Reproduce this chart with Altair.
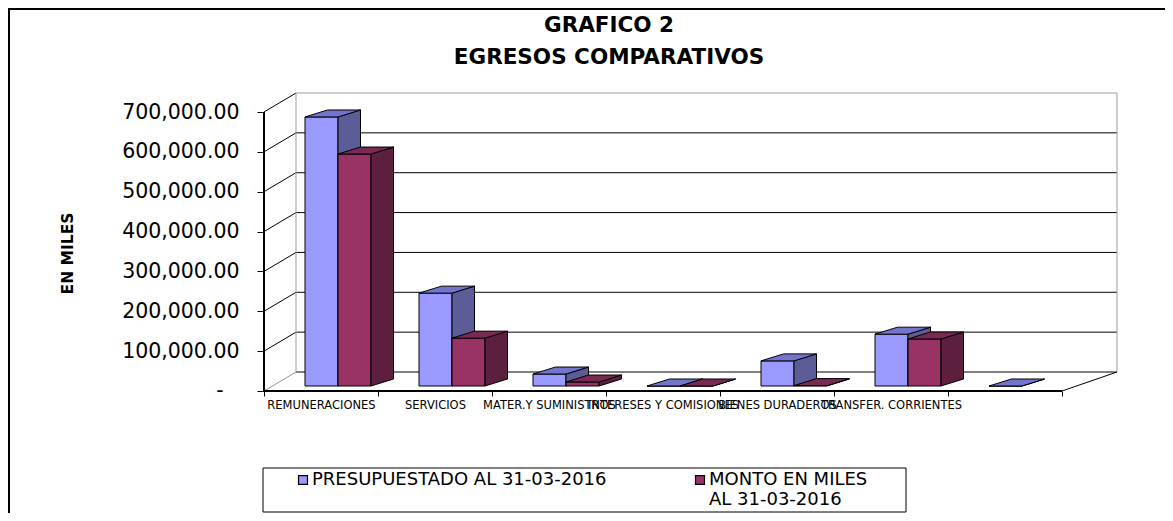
import json
import altair as alt
import pandas as pd

# ---------------- data ----------------
TITLE_LINES = ["GRAFICO 2", "EGRESOS COMPARATIVOS"]
CATEGORIES = ["REMUNERACIONES", "SERVICIOS", "MATER.Y SUMINISTROS",
              "INTERESES Y COMISIONES", "BIENES DURADEROS", "TRANSFER. CORRIENTES", ""]
SERIES = ["PRESUPUESTADO AL 31-03-2016", "MONTO EN MILES AL 31-03-2016"]
PRESUPUESTADO = [675000, 233000, 30000, 0, 63000, 130000, 0]
MONTO = [582000, 120000, 10000, 0, 1000, 118000, None]
Y_TICKS = [0, 100000, 200000, 300000, 400000, 500000, 600000, 700000]
ZERO_LABEL = "-"

FRONT_COLORS = ["#9999FF", "#993366"]
TOP_COLORS = ["#7375CC", "#7A2952"]
SIDE_COLORS = ["#5C5C99", "#5C1F3D"]

# ---------------- layout (pixels) ----------------
VIEW_W, VIEW_H = 1157, 505
AX_X = 256          # view x of the front value axis
AX_Y0 = 383         # view y of value 0 on the front plane
CAT_PX = 114.0
V_PX = 279.0 / 700000.0
FLOOR_DX_L, FLOOR_DX_R, FLOOR_DY = 32.0, 55.0, 19.0
BAR_BASE_PX, BAR_GAP_PX, BAR_W_PX = 5.0, 41.0, 33.0
BAR_DX, BAR_DY = 22.5, 7.0
FONT = "DejaVu Sans"

NCAT = len(CATEGORIES)
x_dom = [-AX_X / CAT_PX, (VIEW_W - AX_X) / CAT_PX]
y_dom = [-(VIEW_H - AX_Y0) / V_PX, AX_Y0 / V_PX]
xs = alt.Scale(domain=x_dom, nice=False, zero=False)
ys = alt.Scale(domain=y_dom, nice=False, zero=False)

# ---------------- walls / floor lines ----------------
rows = []
sid = [0]


def add(kind, pts):
    sid[0] += 1
    for k, (x, y) in enumerate(pts):
        rows.append(dict(seg=sid[0], ord=k, x=x, y=y, kind=kind))


bxL = FLOOR_DX_L / CAT_PX
bxR = NCAT + FLOOR_DX_R / CAT_PX
dyv = FLOOR_DY / V_PX
vmax = max(Y_TICKS)
for v in Y_TICKS:
    add("gray" if v == 0 else "black", [(0, v), (bxL, v + dyv)])
    add("gray" if v == vmax else "black", [(bxL, v + dyv), (bxR, v + dyv)])
add("gray", [(bxL, dyv), (bxL, vmax + dyv)])
add("gray", [(bxR, dyv), (bxR, vmax + dyv)])
add("black", [(NCAT, 0), (bxR, dyv)])
add("thick", [(0, 0), (NCAT, 0)])
add("thick", [(0, 0), (0, vmax)])
lines = pd.DataFrame(rows)

# ---------------- bars ----------------
front, side, top = [], [], []
base_v = BAR_BASE_PX / V_PX
gx, bw = BAR_GAP_PX / CAT_PX, BAR_W_PX / CAT_PX
ddx, ddv = BAR_DX / CAT_PX, BAR_DY / V_PX
bar = 0
for s, vals in enumerate([PRESUPUESTADO, MONTO]):
    for i, val in enumerate(vals):
        if val is None:
            continue
        bar += 1
        xl = i + gx + s * bw
        xr = xl + bw
        y0, y1 = base_v, base_v + val
        front.append(dict(serie=SERIES[s], s=s, x=xl, x2=xr, y=y0, y2=y1))
        side.append(dict(bar=bar, s=s, x=xr, y=y1, y2=y0))
        side.append(dict(bar=bar, s=s, x=xr + ddx, y=y1 + ddv, y2=y0 + ddv))
        top.append(dict(bar=bar, s=s, y=y1, x=xl, x2=xr))
        top.append(dict(bar=bar, s=s, y=y1 + ddv, x=xl + ddx, x2=xr + ddx))
front, side, top = pd.DataFrame(front), pd.DataFrame(side), pd.DataFrame(top)

cat_expr = json.dumps(CATEGORIES) + "[datum.value] || ''"
x_axis = alt.Axis(values=list(range(NCAT + 1)), offset=-(VIEW_H - AX_Y0), domain=False,
                  tickSize=5, tickColor="black", tickWidth=1, labelExpr=cat_expr,
                  labelOffset=CAT_PX / 2, labelPadding=3, labelFont=FONT, labelFontSize=11.5,
                  labelColor="black", labelOverlap=False, labelFlush=False, grid=False, title=None,
                  zindex=1)
y_axis = alt.Axis(values=Y_TICKS, offset=-AX_X, domain=False, tickSize=7, tickColor="black",
                  tickWidth=1, labelExpr="datum.value == 0 ? '' : format(datum.value, ',.2f')",
                  labelFont=FONT, labelFontSize=20.5, labelColor="black", labelPadding=18,
                  grid=False, title="EN MILES", titleFont=FONT, titleFontSize=15.5,
                  titleFontWeight="bold", titleColor="black", titleAngle=270,
                  titleX=59 - AX_X, titleY=245, titleAlign="center", titleBaseline="middle",
                  zindex=1)


def X(field, **kw):
    return alt.X(field, scale=xs, axis=x_axis, **kw)


def Y(field, **kw):
    return alt.Y(field, scale=ys, axis=y_axis, **kw)


line_layers = []
for kind, color, width in [("black", "black", 1), ("gray", "#9A9A9A", 1), ("thick", "black", 2)]:
    line_layers.append(
        alt.Chart(lines).transform_filter(alt.datum.kind == kind).mark_line(
            color=color, strokeWidth=width).encode(
            x=X("x:Q"), y=Y("y:Q"), detail="seg:N", order="ord:Q")
    )

legend = alt.Legend(orient="none", legendX=286, legendY=463, direction="horizontal", columns=2,
                    columnPadding=84, title=None, symbolType="square", symbolSize=80,
                    symbolStrokeColor="black", symbolStrokeWidth=1.2, labelFont=FONT,
                    labelFontSize=18, labelColor="black", labelLimit=600, labelOffset=0,
                    labelExpr="datum.label == '" + SERIES[1] +
                    "' ? ['MONTO EN MILES', 'AL 31-03-2016'] : [datum.label, ' ']")

bar_layers = []
for s in range(2):
    bar_layers.append(
        alt.Chart(front).transform_filter(alt.datum.s == s).mark_rect(
            stroke="black", strokeWidth=1, opacity=1).encode(
            x=X("x:Q"), x2="x2:Q", y=Y("y:Q"), y2="y2:Q",
            color=alt.Color("serie:N", scale=alt.Scale(domain=SERIES, range=FRONT_COLORS), legend=legend))
    )
    bar_layers.append(
        alt.Chart(side).transform_filter(alt.datum.s == s).mark_area(
            orient="vertical", fill=SIDE_COLORS[s], stroke="black", strokeWidth=1, opacity=1).encode(
            x=X("x:Q"), y=Y("y:Q", stack=None), y2="y2:Q", detail="bar:N")
    )
    bar_layers.append(
        alt.Chart(top).transform_filter(alt.datum.s == s).mark_area(
            orient="horizontal", fill=TOP_COLORS[s], stroke="black", strokeWidth=1, opacity=1).encode(
            y=Y("y:Q"), x=X("x:Q", stack=None), x2="x2:Q", detail="bar:N")
    )

# zero tick label of the value axis (accounting style "-")
zero_label = alt.Chart(pd.DataFrame({"v": [Y_TICKS[0]], "t": [ZERO_LABEL]})).mark_text(
    font=FONT, fontSize=20.5, color="black", align="center", baseline="middle").encode(
    text="t:N", x=alt.value(212), y=Y("v:Q"))

one = pd.DataFrame({"a": [0]})
frame_left = alt.Chart(one).mark_rule(color="black", strokeWidth=2).encode(
    x=alt.value(1), y=alt.value(0), y2=alt.value(VIEW_H))
frame_top = alt.Chart(one).mark_rule(color="black", strokeWidth=2).encode(
    x=alt.value(0), x2=alt.value(VIEW_W), y=alt.value(1))
legend_box = alt.Chart(one).mark_rect(fillOpacity=0, stroke="black", strokeWidth=1).encode(
    x=alt.value(255), x2=alt.value(898), y=alt.value(460), y2=alt.value(504))
title_layers = [
    alt.Chart(pd.DataFrame({"t": [TITLE_LINES[k]]})).mark_text(
        font=FONT, fontSize=21.5, fontWeight="bold", color="black", align="center",
        baseline="middle").encode(text="t:N", x=alt.value(601), y=alt.value(yy))
    for k, yy in enumerate([18, 50])
]

chart = alt.layer(*line_layers, *bar_layers, zero_label, frame_left, frame_top, legend_box,
                  *title_layers).properties(
    width=VIEW_W, height=VIEW_H, padding=0,
    autosize=alt.AutoSizeParams(type="none"),
).configure_view(stroke="transparent").configure(background="white")

chart.save("out.html", embed_options={"renderer": "svg", "actions": False})
